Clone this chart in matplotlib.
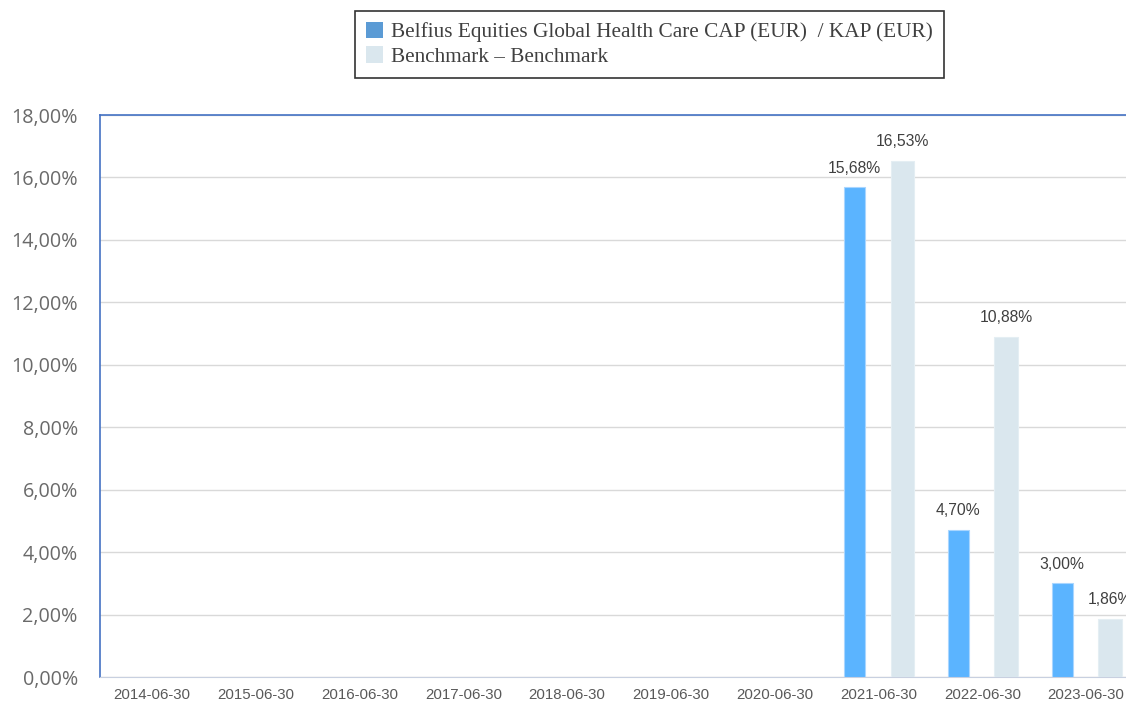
import matplotlib
matplotlib.use("Agg")
import matplotlib.pyplot as plt
import numpy as np
from matplotlib.patches import Patch

categories = ["2014-06-30", "2015-06-30", "2016-06-30", "2017-06-30", "2018-06-30",
              "2019-06-30", "2020-06-30", "2021-06-30", "2022-06-30", "2023-06-30"]
fund = [np.nan, np.nan, np.nan, np.nan, np.nan, np.nan, np.nan, 15.68, 4.70, 3.00]
bench = [np.nan, np.nan, np.nan, np.nan, np.nan, np.nan, np.nan, 16.53, 10.88, 1.86]
fund_name = "Belfius Equities Global Health Care CAP (EUR)  / KAP (EUR)"
bench_name = "Benchmark \u2013 Benchmark"
yticks = [0, 2, 4, 6, 8, 10, 12, 14, 16, 18]

fig = plt.figure(figsize=(11.26, 7.02), dpi=100)
ax = fig.add_axes([100/1126, 25/702, 1 - 100/1126, (677-115)/702])

x = np.arange(len(categories))
off = 0.231
ax.bar(x - off, fund, width=0.2, color="#5BB4FF", edgecolor="#A9D6FF", linewidth=0.8, zorder=3)
ax.bar(x + off, bench, width=0.23, color="#DAE7EE", edgecolor="#E4EEF3", linewidth=0.8, zorder=3)

def fmt(v):
    return f"{v:.2f}%".replace(".", ",")

for xi, v in zip(x, fund):
    if not np.isnan(v):
        ax.annotate(fmt(v), (xi - off, v), xytext=(0, 8.5), textcoords="offset points",
                    ha="center", va="bottom", fontsize=11.3, color="#404040",
                    family="Liberation Sans", annotation_clip=False)
for xi, v in zip(x, bench):
    if not np.isnan(v):
        ax.annotate(fmt(v), (xi + off, v), xytext=(0, 8.5), textcoords="offset points",
                    ha="center", va="bottom", fontsize=11.3, color="#404040",
                    family="Liberation Sans", annotation_clip=False)

ax.set_ylim(0, 18)
ax.set_xlim(-0.5, 9.5 - 12/103.8)
ax.set_yticks(yticks)
ax.set_yticklabels([fmt(t) for t in yticks], fontsize=14.2, color="#6A6A6A", family="Open Sans")
ax.set_xticks(x)
ax.set_xticklabels(categories, fontsize=10.8, color="#595959", family="Liberation Sans")
ax.tick_params(axis="both", length=0)
ax.tick_params(axis="y", pad=16)
ax.tick_params(axis="x", pad=8)
ax.grid(axis="y", color="#D9D9D9", linewidth=1, zorder=0)
for s in ["left", "top"]:
    ax.spines[s].set_color("#4472C4")
    ax.spines[s].set_linewidth(1.2)
ax.spines["bottom"].set_color("#C8D0E0")
ax.spines["right"].set_visible(False)

handles = [Patch(facecolor="#5B9BD5", edgecolor="none"), Patch(facecolor="#DAE7EE", edgecolor="none")]
leg = fig.legend(handles, [fund_name, bench_name], loc="upper center",
                 bbox_to_anchor=(649.5/1126, 1 - 11/702), frameon=True, fancybox=False,
                 prop={"family": "Liberation Serif", "size": 15.3}, handlelength=0.8,
                 handleheight=0.8, handletextpad=0.4, labelspacing=0.2, borderpad=0.5,
                 borderaxespad=0)
leg.get_frame().set_edgecolor("black")
leg.get_frame().set_linewidth(1.2)
for t in leg.get_texts():
    t.set_color("#404040")

fig.savefig("out.png", dpi=100)
